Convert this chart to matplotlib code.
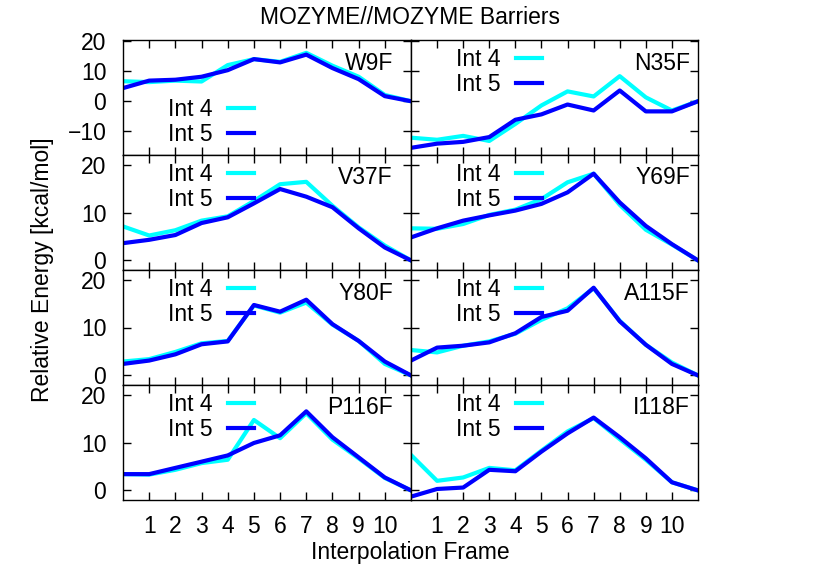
import matplotlib
matplotlib.use("Agg")
import matplotlib.pyplot as plt

plt.rcParams["font.family"] = ["Liberation Sans", "DejaVu Sans"]

frames = list(range(12))
names = ["W9F", "N35F", "V37F", "Y69F", "Y80F", "A115F", "P116F", "I118F"]

# Int 4 / Int 5 relative energies (kcal/mol), frames 0..11
int4 = {
    "W9F": [6.7, 6.4, 6.9, 6.6, 12.1, 14.1, 13.2, 16.2, 11.9, 8.2, 2.1, 0.0],
    "N35F": [-12.2, -12.9, -11.6, -13.3, -7.6, -1.4, 3.3, 1.6, 8.4, 1.3, -3.1, 0.0],
    "V37F": [7.1, 5.2, 6.3, 8.3, 9.2, 12.4, 15.9, 16.4, 11.4, 6.9, 3.1, 0.0],
    "Y69F": [6.7, 6.6, 7.6, 9.5, 10.6, 12.8, 16.3, 18.1, 11.6, 6.4, 3.3, 0.0],
    "Y80F": [2.9, 3.4, 4.9, 6.7, 7.2, 14.6, 13.1, 15.2, 10.6, 7.2, 2.4, 0.0],
    "A115F": [5.3, 4.8, 6.2, 7.1, 8.7, 11.6, 14.0, 18.2, 11.4, 6.4, 2.7, 0.0],
    "P116F": [3.4, 3.3, 4.3, 5.7, 6.4, 14.7, 10.9, 16.1, 10.6, 6.7, 2.6, 0.0],
    "I118F": [7.4, 2.0, 2.7, 4.7, 4.2, 8.3, 12.3, 15.1, 10.7, 6.4, 1.7, 0.0],
}
int5 = {
    "W9F": [4.4, 6.9, 7.2, 8.2, 10.4, 14.1, 13.0, 15.6, 11.1, 7.4, 1.7, 0.0],
    "N35F": [-15.6, -14.2, -13.6, -12.0, -6.2, -4.4, -1.1, -3.1, 3.6, -3.4, -3.4, 0.0],
    "V37F": [3.6, 4.3, 5.3, 7.8, 9.0, 11.9, 14.9, 13.3, 11.1, 6.7, 2.7, 0.0],
    "Y69F": [4.8, 6.7, 8.3, 9.4, 10.4, 11.8, 14.2, 18.1, 12.1, 7.2, 3.4, 0.0],
    "Y80F": [2.4, 3.1, 4.4, 6.5, 7.1, 14.7, 13.3, 15.8, 10.7, 7.2, 2.9, 0.0],
    "A115F": [3.1, 5.8, 6.2, 6.9, 8.8, 12.2, 13.5, 18.3, 11.3, 6.4, 2.4, 0.0],
    "P116F": [3.4, 3.4, 4.7, 6.0, 7.3, 9.9, 11.5, 16.5, 11.1, 6.9, 2.7, 0.0],
    "I118F": [-1.3, 0.3, 0.6, 4.3, 4.0, 8.1, 11.9, 15.2, 11.1, 6.7, 1.7, 0.0],
}
xticks = list(range(1, 11))

W, H = 822, 576
fig = plt.figure(figsize=(W / 100, H / 100), dpi=100)

col_left = [123, 411]
col_w = [288, 287]
row_top = [40, 155, 270, 385]
row_h = 115
fs = 16.5

for i, name in enumerate(names):
    r, c = divmod(i, 2)
    x0, w, y0 = col_left[c], col_w[c], row_top[r]
    ax = fig.add_axes([x0 / W, 1 - (y0 + row_h) / H, w / W, row_h / H])
    ax.plot(frames, int4[name], color="#00ffff", lw=3, label="Int 4")
    ax.plot(frames, int5[name], color="#0000ff", lw=3, label="Int 5")
    ax.set_xlim(0, 11)
    if r == 0:
        ax.set_ylim(-18, 20.5)
        ax.set_yticks([-10, 0, 10, 20])
    else:
        ax.set_ylim(-2, 22)
        ax.set_yticks([0, 10, 20])
    ax.set_xticks(xticks)
    ax.tick_params(direction="in", length=6, width=1, top=True, right=True,
                   labelsize=fs, pad=12)
    if r < 3:
        ax.set_xticklabels([])
    else:
        ax.tick_params(axis="x", pad=11)
    if c == 1:
        ax.set_yticklabels([])
    for s in ax.spines.values():
        s.set_linewidth(1)

    leg_top = 58 if name == "W9F" else 8
    ax.legend(loc="upper right", bbox_to_anchor=(131 / w, 1 - leg_top / row_h),
              markerfirst=False, frameon=False, fontsize=fs, borderpad=0,
              handlelength=1.15, handletextpad=0.65, labelspacing=0.09,
              borderaxespad=0)
    off = 18 if c == 0 else 8
    ax.text(1 - off / w, 1 - 23 / row_h, name, transform=ax.transAxes,
            ha="right", va="center", fontsize=fs)

fig.text(410 / W, 1 - 18 / H, "MOZYME//MOZYME Barriers", ha="center",
         va="center", fontsize=fs)
fig.text(42 / W, 1 - 270 / H, "Relative Energy [kcal/mol]", rotation=90,
         ha="center", va="center", fontsize=fs)
fig.text(410 / W, 1 - 552 / H, "Interpolation Frame", ha="center",
         va="center", fontsize=fs)

fig.savefig("out.png", dpi=100)
